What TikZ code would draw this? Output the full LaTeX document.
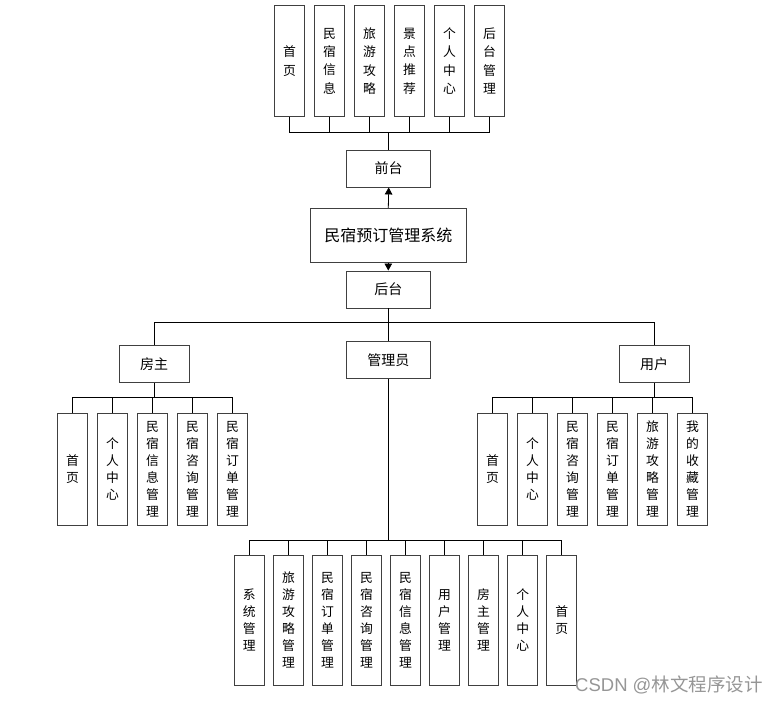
\documentclass[tikz,border=0pt]{standalone}
\usepackage{fontspec}
\newfontfamily\cjk{Noto Sans CJK SC}
\newfontfamily\lat{Liberation Sans}
\usetikzlibrary{arrows.meta}
\definecolor{boxc}{RGB}{64,64,64}
\definecolor{wmc}{RGB}{150,150,150}
\begin{document}
\begin{tikzpicture}[x=1pt,y=-1pt,
  bx/.style={draw=boxc, line width=0.9pt, inner sep=0pt, fill=white, align=center},
  vb/.style={bx, minimum width=30pt, font=\cjk\fontsize{12.8}{17}\selectfont},
  vbt/.style={vb, minimum height=111pt, font=\cjk\fontsize{12.8}{18.3}\selectfont},
  vbm/.style={vb, minimum height=111.5pt},
  vbb/.style={vb, minimum height=130pt},
  hb/.style={bx, font=\cjk\fontsize{14}{17}\selectfont, minimum height=37pt},
  ln/.style={draw=black, line width=0.8pt},
  ar/.style={ln, -{Triangle[length=7pt,width=7.5pt]}}]
\useasboundingbox (0,0) rectangle (781,704);

% top level
\node[vbt] (t1) at (289.5,61) {首\\页};
\node[vbt] (t2) at (329.5,61) {民\\宿\\信\\息};
\node[vbt] (t3) at (369.5,61) {旅\\游\\攻\\略};
\node[vbt] (t4) at (409.5,61) {景\\点\\推\\荐};
\node[vbt] (t5) at (449.5,61) {个\\人\\中\\心};
\node[vbt] (t6) at (489.5,61) {后\\台\\管\\理};
\node[hb, minimum width=84pt] (qt) at (388.7,168.5) {前台};
\node[bx, minimum width=156.5pt, minimum height=54pt, font=\cjk\fontsize{16}{18}\selectfont] (sys) at (388.3,235.3) {民宿预订管理系统};
\node[hb, minimum width=83.5pt] (ht) at (388.3,289.5) {后台};
\node[hb, minimum width=83.5pt] (gly) at (388.3,360) {管理员};
\node[hb, minimum width=70.5pt] (fz) at (154.2,364.2) {房主};
\node[hb, minimum width=70.5pt] (yh) at (654.2,364.2) {用户};

% landlord children
\node[vbm] (f1) at (72.5,469.2) {首\\页};
\node[vbm] (f2) at (112.5,469.2) {个\\人\\中\\心};
\node[vbm] (f3) at (152.5,469.2) {民\\宿\\信\\息\\管\\理};
\node[vbm] (f4) at (192.5,469.2) {民\\宿\\咨\\询\\管\\理};
\node[vbm] (f5) at (232.5,469.2) {民\\宿\\订\\单\\管\\理};

% user children
\node[vbm] (u1) at (492.5,469.2) {首\\页};
\node[vbm] (u2) at (532.5,469.2) {个\\人\\中\\心};
\node[vbm] (u3) at (572.5,469.2) {民\\宿\\咨\\询\\管\\理};
\node[vbm] (u4) at (612.5,469.2) {民\\宿\\订\\单\\管\\理};
\node[vbm] (u5) at (652.5,469.2) {旅\\游\\攻\\略\\管\\理};
\node[vbm] (u6) at (692.5,469.2) {我\\的\\收\\藏\\管\\理};

% admin children
\node[vbb] (a1) at (249.3,620) {系\\统\\管\\理};
\node[vbb] (a2) at (288.4,620) {旅\\游\\攻\\略\\管\\理};
\node[vbb] (a3) at (327.4,620) {民\\宿\\订\\单\\管\\理};
\node[vbb] (a4) at (366.5,620) {民\\宿\\咨\\询\\管\\理};
\node[vbb] (a5) at (405.5,620) {民\\宿\\信\\息\\管\\理};
\node[vbb] (a6) at (444.6,620) {用\\户\\管\\理};
\node[vbb] (a7) at (483.6,620) {房\\主\\管\\理};
\node[vbb] (a8) at (522.7,620) {个\\人\\中\\心};
\node[vbb] (a9) at (561.7,620) {首\\页};

% bus coordinates
\coordinate (busT) at (388.7,132);
\coordinate (busM) at (388.3,322.3);
\coordinate (busF) at (154.2,397.7);
\coordinate (busU) at (654.2,397.7);
\coordinate (busA) at (388.3,540.7);

% connectors
\foreach \n in {t1,t2,t3,t4,t5,t6} \draw[ln] (\n.south) |- (busT);
\draw[ln] (busT) -- (qt.north);
\draw[ar] (sys.north) -- (qt.south);
\draw[ar] (sys.south) -- (ht.north);
\draw[ln] (ht.south) -- (busM);
\draw[ln] (fz.north) |- (busM);
\draw[ln] (yh.north) |- (busM);
\draw[ln] (busM) -- (gly.north);
\draw[ln] (fz.south) -- (busF);
\foreach \n in {f1,f2,f3,f4,f5} \draw[ln] (\n.north) |- (busF);
\draw[ln] (yh.south) -- (busU);
\foreach \n in {u1,u2,u3,u4,u5,u6} \draw[ln] (\n.north) |- (busU);
\draw[ln] (gly.south) -- (busA);
\foreach \n in {a1,a2,a3,a4,a5,a6,a7,a8,a9} \draw[ln] (\n.north) |- (busA);

% watermark
\node[text=wmc, font=\fontsize{18.5}{20}\selectfont, anchor=west, inner sep=0pt] (wm) at (575,685) {\lat CSDN @\cjk 林文程序设计};
\end{tikzpicture}
\end{document}
